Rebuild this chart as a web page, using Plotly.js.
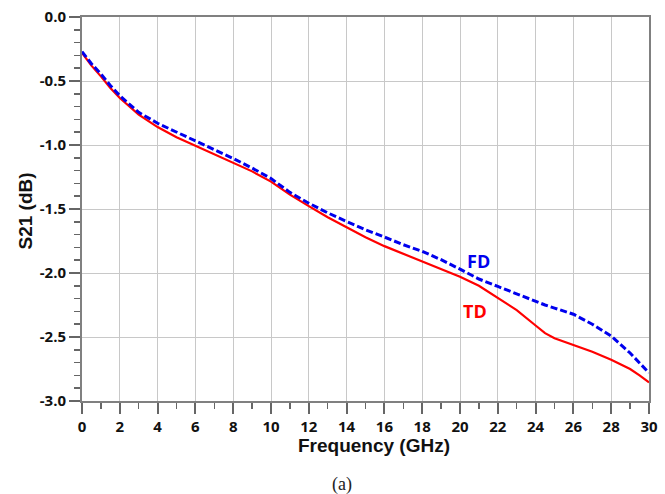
<!DOCTYPE html>
<html>
<head>
<meta charset="utf-8">
<script src="https://cdn.plot.ly/plotly-3.0.1.min.js"></script>
<style>html,body{margin:0;padding:0;background:#fff;}#chart{width:665px;height:494px;}</style>
</head>
<body>
<div id="chart"></div>
<script>
var freqGHz = [0,0.5,1,1.5,2,3,4,5,6,7,8,9,10,11,12,13,14,15,16,17,18,19,20,21,22,23,24,24.5,25,26,27,28,29,29.5,30];
var tdS21 = [-0.28,-0.38,-0.464,-0.555,-0.633,-0.763,-0.86,-0.94,-1.005,-1.07,-1.136,-1.206,-1.286,-1.388,-1.478,-1.565,-1.643,-1.72,-1.79,-1.849,-1.909,-1.969,-2.03,-2.10,-2.195,-2.29,-2.41,-2.47,-2.51,-2.565,-2.615,-2.677,-2.75,-2.80,-2.855];
var fdS21 = [-0.27,-0.365,-0.445,-0.535,-0.615,-0.745,-0.83,-0.90,-0.972,-1.037,-1.105,-1.18,-1.262,-1.37,-1.455,-1.53,-1.597,-1.662,-1.719,-1.779,-1.831,-1.896,-1.97,-2.047,-2.105,-2.164,-2.222,-2.25,-2.274,-2.322,-2.40,-2.493,-2.625,-2.70,-2.78];
var seriesNames = ['TD','FD'];
var xTickVals = [0,2,4,6,8,10,12,14,16,18,20,22,24,26,28,30];
var xTickText = ['0','2','4','6','8','10','12','14','16','18','20','22','24','26','28','30'];
var yTickVals = [0,-0.5,-1,-1.5,-2,-2.5,-3];
var yTickText = ['0.0','-0.5','-1.0','-1.5','-2.0','-2.5','-3.0'];
var xTitle = 'Frequency (GHz)';
var yTitle = 'S21 (dB)';
var caption = '(a)';

var tickFont = {family:'Open Sans, Noto Sans, sans-serif', size:15, color:'#111'};
var titleFont = {family:'Liberation Sans, Arial, sans-serif', size:19, color:'#111'};

function boldList(arr){ return arr.map(function(s){ return '<b>' + s + '</b>'; }); }

var traces = [
  {x:freqGHz, y:tdS21, name:seriesNames[0], mode:'lines', line:{color:'#ff0000', width:2.2}},
  {x:freqGHz, y:fdS21, name:seriesNames[1], mode:'lines', line:{color:'#0000ee', width:3, dash:'7px,3px'}}
];

var plotL = 82, plotR = 649, plotT = 17, plotB = 401;
var pw = plotR - plotL, ph = plotB - plotT;

var layout = {
  width:665, height:494,
  margin:{l:plotL, r:665-plotR, t:plotT, b:494-plotB},
  paper_bgcolor:'#fff', plot_bgcolor:'#fff',
  showlegend:false,
  xaxis:{
    range:[0,30], tickmode:'array', tickvals:xTickVals, ticktext:boldList(xTickText),
    showgrid:true, gridcolor:'#c8c8c8', gridwidth:1,
    showline:true, linecolor:'#808080', linewidth:2, mirror:true,
    ticks:'outside', ticklen:11, tickwidth:2, tickcolor:'#666',
    minor:{dtick:1, tick0:0, ticks:'outside', ticklen:6, tickwidth:1.5, tickcolor:'#666', showgrid:false},
    tickfont:tickFont, zeroline:false
  },
  yaxis:{
    range:[-3,0], tickmode:'array', tickvals:yTickVals, ticktext:boldList(yTickText),
    showgrid:true, gridcolor:'#c8c8c8', gridwidth:1,
    showline:true, linecolor:'#808080', linewidth:2, mirror:true,
    ticks:'outside', ticklen:11, tickwidth:2, tickcolor:'#666',
    minor:{dtick:0.1, tick0:0, ticks:'outside', ticklen:6, tickwidth:1.5, tickcolor:'#666', showgrid:false},
    tickfont:tickFont, zeroline:false
  },
  annotations:[
    {x:21.0, y:-1.91, xref:'x', yref:'y', text:'<b>' + seriesNames[1] + '</b>', showarrow:false,
     font:{family:'Open Sans, sans-serif', size:18, color:'#0000ee'}},
    {x:20.8, y:-2.295, xref:'x', yref:'y', text:'<b>' + seriesNames[0] + '</b>', showarrow:false,
     font:{family:'Open Sans, sans-serif', size:18, color:'#ff0000'}},
    {x:(373.5-plotL)/pw, y:0, xref:'paper', yref:'paper', yanchor:'middle', yshift:-(445-plotB),
     text:'<b>' + xTitle + '</b>', showarrow:false, font:titleFont},
    {x:0, y:(plotB-211.5)/ph, xref:'paper', yref:'paper', xanchor:'center', xshift:-(plotL-25),
     textangle:-90, text:'<b>' + yTitle + '</b>', showarrow:false, font:titleFont},
    {x:(341.5-plotL)/pw, y:0, xref:'paper', yref:'paper', yanchor:'middle', yshift:-(484-plotB),
     text:caption, showarrow:false,
     font:{family:'Liberation Serif, Times New Roman, serif', size:18, color:'#222'}}
  ]
};

Plotly.newPlot('chart', traces, layout, {displayModeBar:false, staticPlot:true});
</script>
</body>
</html>
